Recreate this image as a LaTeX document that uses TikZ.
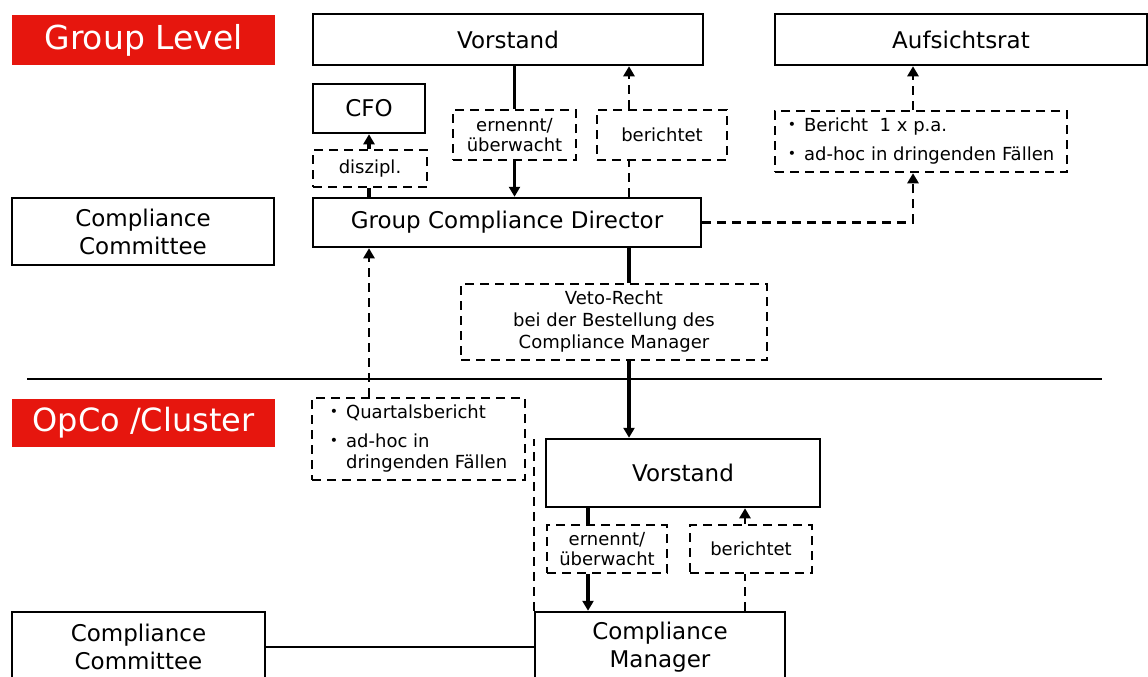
\documentclass[tikz,border=0pt]{standalone}
\usepackage{fontspec}
\setmainfont{DejaVu Sans}
\usetikzlibrary{arrows.meta}
\definecolor{grpred}{RGB}{230,22,14}

\begin{document}
\begin{tikzpicture}[x=1pt,y=-1pt,
    >={Triangle[length=10pt,width=11pt]},
    box/.style={draw, line width=2.5pt, inner sep=0pt, align=center, font=\fontsize{23}{28}\selectfont},
    dbox/.style={draw, line width=2.5pt, dash pattern=on 9pt off 6pt, fill=white, inner sep=0pt, align=center, font=\fontsize{18}{20}\selectfont},
    lvl/.style={fill=grpred, text=white, inner sep=0pt, font=\fontsize{33}{38}\selectfont},
    conn/.style={line width=3.5pt},
    dconn/.style={line width=2.5pt, dash pattern=on 9pt off 6pt}]
    \useasboundingbox (0,0) rectangle (1148,677);
    % group level
    \node[lvl, minimum width=263, minimum height=50] (grouplevel) at (143.5,40) {Group Level};
    \node[box, minimum width=390, minimum height=51] (vorstand) at (508,39.5) {Vorstand};
    \node[box, minimum width=372, minimum height=51] (aufsicht) at (961,39.5) {Aufsichtsrat};
    \node[box, minimum width=112, minimum height=49] (cfo) at (369,108.5) {CFO};
    \node[dbox, minimum width=114, minimum height=37] (diszipl) at (370,168.5) {diszipl.};
    \node[dbox, minimum width=123, minimum height=50] (ernennt) at (514.5,135) {ernennt/\\überwacht};
    \node[dbox, minimum width=130, minimum height=50] (berichtet) at (662,135) {berichtet};
    \node[dbox, minimum width=292, minimum height=61, font=\fontsize{18}{21}\selectfont] (bericht) at (921,141.5)
        {\begin{tabular}{@{}l@{\hspace{8pt}}l@{}}
         \raisebox{1.5pt}{\fontsize{14}{14}\selectfont•} & Bericht \ 1 x p.a.\\[8pt]
         \raisebox{1.5pt}{\fontsize{14}{14}\selectfont•} & ad-hoc in dringenden Fällen
         \end{tabular}};
    \node[box, minimum width=262, minimum height=67] (cctop) at (143,231.5) {Compliance\\Committee};
    \node[box, minimum width=388, minimum height=49] (gcd) at (507,222.5) {Group Compliance Director};
    \node[dbox, minimum width=306, minimum height=76, font=\fontsize{18}{22}\selectfont] (veto) at (614,322)
        {Veto-Recht\\bei der Bestellung des\\Compliance Manager};
    % separator
    \coordinate (sepl) at (27,379);
    \coordinate (sepr) at (1102,379);
    \draw[line width=2.5pt] (sepl) -- (sepr);
    % opco level
    \node[lvl, minimum width=263, minimum height=48, font=\fontsize{32}{38}\selectfont] (opco) at (143.5,423) {OpCo /Cluster};
    \node[dbox, minimum width=213, minimum height=82, font=\fontsize{18}{21}\selectfont] (quartal) at (418.5,439)
        {\begin{tabular}{@{}l@{\hspace{8pt}}l@{}}
         \raisebox{1.5pt}{\fontsize{14}{14}\selectfont•} & Quartalsbericht\\[8pt]
         \raisebox{1.5pt}{\fontsize{14}{14}\selectfont•} & ad-hoc in\\
          & dringenden Fällen
         \end{tabular}};
    \node[box, minimum width=274, minimum height=68] (vorstand2) at (683,473) {Vorstand};
    \node[dbox, minimum width=120, minimum height=48] (ernennt2) at (607,549) {ernennt/\\überwacht};
    \node[dbox, minimum width=122, minimum height=48] (berichtet2) at (751,549) {berichtet};
    \node[box, minimum width=253, minimum height=70] (ccbot) at (138.5,647) {Compliance\\Committee};
    \node[box, minimum width=250, minimum height=70] (cm) at (660,647) {Compliance\\Manager};
    % connectors
    \coordinate (brx) at (629,0);
    \coordinate (arx) at (913,0);
    \coordinate (evx) at (588,0);
    \coordinate (bvx) at (745,0);
    \draw[conn] (vorstand.south -| ernennt) -- (ernennt.north);
    \draw[conn,->] (ernennt.south) -- (gcd.north -| ernennt);
    \draw[dconn] (gcd.north -| brx) -- (berichtet.south -| brx);
    \draw[dconn,->] (berichtet.north -| brx) -- (vorstand.south -| brx);
    \draw[conn] (gcd.north -| cfo) -- (diszipl.south -| cfo);
    \draw[conn,->] (diszipl.north -| cfo) -- (cfo.south);
    \draw[dconn,->] (gcd.east) -| (bericht.south -| arx);
    \draw[dconn,->] (bericht.north -| arx) -- (aufsicht.south -| arx);
    \draw[conn] (gcd.south -| brx) -- (veto.north -| brx);
    \draw[conn,->] (veto.south -| brx) -- (vorstand2.north -| brx);
    \draw[dconn,->] (quartal.north -| cfo) -- (gcd.south -| cfo);
    \draw[dconn] (cm.north west) -- (cm.north west |- quartal.east);
    \draw[conn] (vorstand2.south -| evx) -- (ernennt2.north -| evx);
    \draw[conn,->] (ernennt2.south -| evx) -- (cm.north -| evx);
    \draw[dconn,->] (berichtet2.north -| bvx) -- (vorstand2.south -| bvx);
    \draw[dconn] (cm.north -| bvx) -- (berichtet2.south -| bvx);
    \draw[line width=2.5pt] (ccbot.east) -- (cm.west);
\end{tikzpicture}
\end{document}
